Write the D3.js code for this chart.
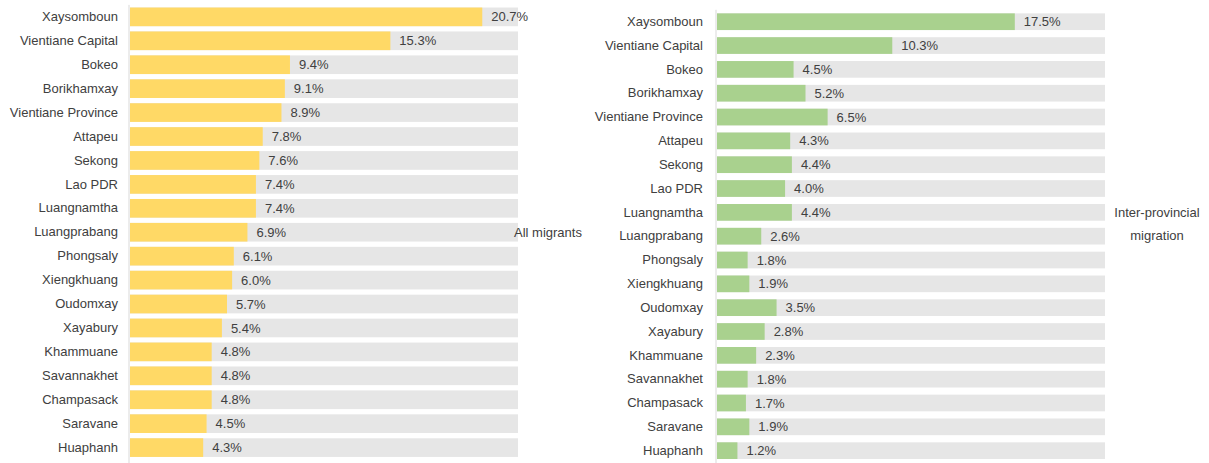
<!DOCTYPE html>
<html>
<head>
<meta charset="utf-8">
<script src="https://cdn.jsdelivr.net/npm/d3@7"></script>
<style>
  body { margin: 0; background: #fff; }
  svg text { font-family: "Liberation Sans", Arial, sans-serif; fill: #404040; }
</style>
</head>
<body>
<div id="chart"></div>
<script>
// Data
var provinces = ["Xaysomboun", "Vientiane Capital", "Bokeo", "Borikhamxay", "Vientiane Province",
  "Attapeu", "Sekong", "Lao PDR", "Luangnamtha", "Luangprabang", "Phongsaly", "Xiengkhuang",
  "Oudomxay", "Xayabury", "Khammuane", "Savannakhet", "Champasack", "Saravane", "Huaphanh"];

var allMigrants = [20.7, 15.3, 9.4, 9.1, 8.9, 7.8, 7.6, 7.4, 7.4, 6.9, 6.1, 6.0, 5.7, 5.4, 4.8, 4.8, 4.8, 4.5, 4.3];
var interProvincial = [17.5, 10.3, 4.5, 5.2, 6.5, 4.3, 4.4, 4.0, 4.4, 2.6, 1.8, 1.9, 3.5, 2.8, 2.3, 1.8, 1.7, 1.9, 1.2];

var trackMax = 22.8; // grey background bar length, in %
var formatPct = d3.format(".1f");

var svg = d3.select("#chart")
    .append("svg")
    .attr("width", 1209)
    .attr("height", 463);

// draws one panel of horizontal bars
function drawPanel(opts) {
  var data = provinces.map(function(p, i) { return {name: p, value: opts.values[i]}; });

  var x = d3.scaleLinear().domain([0, trackMax]).range([opts.left, opts.left + 388]);
  var y = d3.scaleBand()
      .domain(provinces)
      .range([opts.top, opts.top + provinces.length * opts.step])
      .paddingInner(opts.pad)
      .paddingOuter(opts.pad / 2);

  var g = svg.append("g");

  g.selectAll(".track")
    .data(data)
    .enter().append("rect")
    .attr("class", "track")
    .attr("x", x(0))
    .attr("y", function(d) { return y(d.name); })
    .attr("width", x(trackMax) - x(0))
    .attr("height", y.bandwidth())
    .style("fill", "#e6e6e6");

  g.selectAll(".bar")
    .data(data)
    .enter().append("rect")
    .attr("class", "bar")
    .attr("x", x(0))
    .attr("y", function(d) { return y(d.name); })
    .attr("width", function(d) { return x(d.value) - x(0); })
    .attr("height", y.bandwidth())
    .style("fill", opts.color);

  g.selectAll(".val")
    .data(data)
    .enter().append("text")
    .attr("class", "val")
    .attr("x", function(d) { return x(d.value) + 9; })
    .attr("y", function(d) { return y(d.name) + y.bandwidth() / 2; })
    .attr("dy", "0.35em")
    .style("font-size", "13px")
    .text(function(d) { return formatPct(d.value) + "%"; });

  // category axis
  var axis = g.append("g")
      .attr("transform", "translate(" + (x(0) - 1) + ",0)")
      .call(d3.axisLeft(y).tickSize(0).tickPadding(opts.labelPad));
  axis.select(".domain").remove();
  axis.selectAll("text")
      .style("font-size", "13px")
      .style("font-family", "Liberation Sans, Arial, sans-serif")
      .attr("fill", "#404040");

  g.append("line")
      .attr("x1", x(0) - 1).attr("x2", x(0) - 1)
      .attr("y1", opts.top).attr("y2", 463)
      .style("stroke", "#d9d9d9")
      .style("stroke-width", 1);

  var lbl = g.append("text")
      .attr("x", opts.titleX)
      .attr("y", opts.titleY)
      .attr("text-anchor", "middle")
      .style("font-size", "13px");
  opts.title.forEach(function(t, i) {
    lbl.append("tspan")
      .attr("x", opts.titleX)
      .attr("dy", i === 0 ? "0.35em" : "23px")
      .text(t);
  });
}

drawPanel({
  values: allMigrants, left: 130, top: 4.9, step: 23.93, pad: 0.22,
  color: "#ffd966", labelPad: 11, title: ["All migrants"], titleX: 548, titleY: 232
});

drawPanel({
  values: interProvincial, left: 717, top: 9.8, step: 23.83, pad: 0.3,
  color: "#a9d18e", labelPad: 13, title: ["Inter-provincial", "migration"], titleX: 1157, titleY: 212
});
</script>
</body>
</html>
